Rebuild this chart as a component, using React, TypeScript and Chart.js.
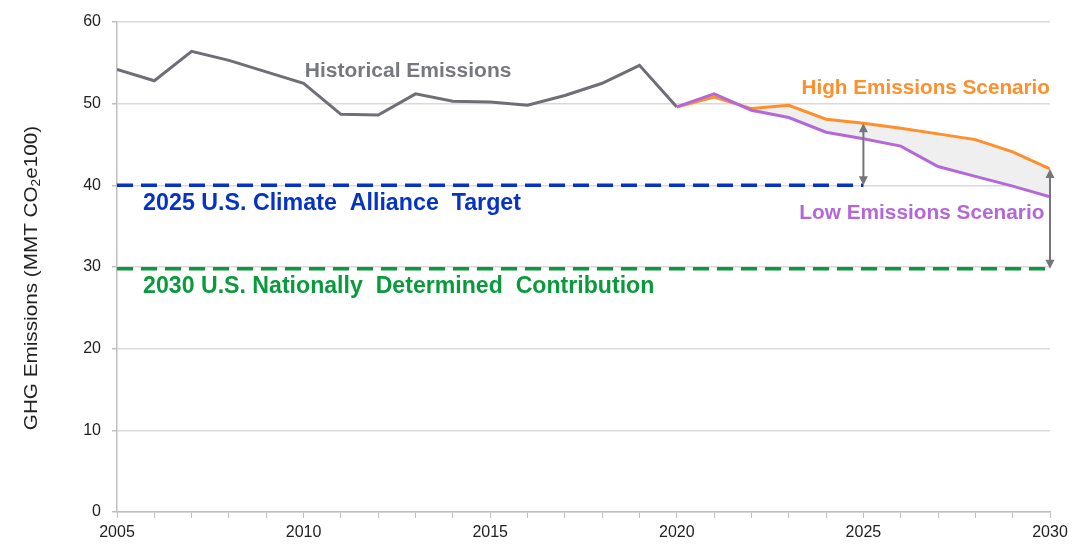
import React, { useEffect, useRef } from "react";
import { Chart, registerables } from "chart.js";

Chart.register(...registerables);

// ---- Data ----
const histYears = [2005, 2006, 2007, 2008, 2009, 2010, 2011, 2012, 2013, 2014, 2015, 2016, 2017, 2018, 2019, 2020];
const histValues = [54.2, 52.8, 56.4, 55.3, 53.9, 52.5, 48.7, 48.6, 51.2, 50.3, 50.2, 49.8, 51.0, 52.5, 54.7, 49.6];

const scenarioYears = [2020, 2021, 2022, 2023, 2024, 2025, 2026, 2027, 2028, 2029, 2030];
const highValues = [49.6, 50.8, 49.4, 49.8, 48.1, 47.6, 47.0, 46.3, 45.6, 44.1, 42.0];
const lowValues = [49.6, 51.2, 49.2, 48.3, 46.5, 45.7, 44.8, 42.3, 41.1, 39.9, 38.6];

const allianceYears = [2005, 2025];
const allianceTarget = 40;
const ndcYears = [2005, 2030];
const ndcTarget = 29.8;

const yTicks = [0, 10, 20, 30, 40, 50, 60];
const xLabelYears = [2005, 2010, 2015, 2020, 2025, 2030];

// gap arrows: at year, from target value to high scenario value
const arrowYears = [2025, 2030];
const arrowFrom = [allianceTarget, ndcTarget];
const arrowTo = [highValues[scenarioYears.indexOf(2025)], highValues[scenarioYears.indexOf(2030)]];

const labelTexts = [
  "Historical Emissions",
  "High Emissions Scenario",
  "Low Emissions Scenario",
  "2025 U.S. Climate  Alliance  Target",
  "2030 U.S. Nationally  Determined  Contribution",
];

const COLORS = {
  hist: "#6e6f76",
  histText: "#77787e",
  high: "#ff8f2a",
  low: "#b468d8",
  blue: "#0533c8",
  green: "#0a9a3c",
  arrow: "#75767c",
  fill: "#efefef",
  grid: "#d9d9d9",
  axis: "#bfbfbf",
};

const FONT = "'Liberation Sans', Arial, sans-serif";

const annotationPlugin = {
  id: "annotations",
  afterDatasetsDraw(chart: any) {
    const ctx = chart.ctx;
    const xs = chart.scales.x;
    const ys = chart.scales.y;

    // arrows
    ctx.save();
    ctx.strokeStyle = COLORS.arrow;
    ctx.fillStyle = COLORS.arrow;
    ctx.lineWidth = 2;
    arrowYears.forEach((yr, i) => {
      const x = xs.getPixelForValue(yr);
      const y1 = ys.getPixelForValue(arrowFrom[i]);
      const y2 = ys.getPixelForValue(arrowTo[i]);
      const head = 9;
      ctx.beginPath();
      ctx.moveTo(x, y1 - head + 1);
      ctx.lineTo(x, y2 + head - 1);
      ctx.stroke();
      ctx.beginPath();
      ctx.moveTo(x, y2);
      ctx.lineTo(x - 4.5, y2 + head);
      ctx.lineTo(x + 4.5, y2 + head);
      ctx.closePath();
      ctx.fill();
      ctx.beginPath();
      ctx.moveTo(x, y1);
      ctx.lineTo(x - 4.5, y1 - head);
      ctx.lineTo(x + 4.5, y1 - head);
      ctx.closePath();
      ctx.fill();
    });
    ctx.restore();

    // text labels
    const labels = [
      { t: labelTexts[0], x: 2012.8, y: 54.0, c: COLORS.histText, a: "center", f: 20, s: 1.05 },
      { t: labelTexts[1], x: 2030, y: 51.9, c: COLORS.high, a: "right", f: 20, s: 1.035 },
      { t: labelTexts[2], x: 2029.85, y: 36.6, c: COLORS.low, a: "right", f: 20, s: 1.04 },
      { t: labelTexts[3], x: 2005.7, y: 37.8, c: COLORS.blue, a: "left", f: 23, s: 1.01 },
      { t: labelTexts[4], x: 2005.7, y: 27.6, c: COLORS.green, a: "left", f: 23, s: 1.005 },
    ];
    labels.forEach((l) => {
      ctx.save();
      ctx.font = `bold ${l.f}px ${FONT}`;
      ctx.textBaseline = "middle";
      ctx.fillStyle = l.c;
      ctx.textAlign = l.a as CanvasTextAlign;
      ctx.translate(xs.getPixelForValue(l.x), ys.getPixelForValue(l.y));
      ctx.scale(l.s, 1);
      ctx.fillText(l.t, 0, 0);
      ctx.restore();
    });

    // y axis title with subscript
    ctx.save();
    const cy = (chart.chartArea.top + chart.chartArea.bottom) / 2 + 11;
    ctx.translate(32, cy);
    ctx.rotate(-Math.PI / 2);
    ctx.scale(1.15, 1);
    ctx.fillStyle = "#222";
    ctx.textBaseline = "middle";
    ctx.textAlign = "left";
    const p1 = "GHG Emissions (MMT CO";
    const p2 = "2";
    const p3 = "e100)";
    ctx.font = `18px ${FONT}`;
    const w1 = ctx.measureText(p1).width;
    const w3 = ctx.measureText(p3).width;
    ctx.font = `12px ${FONT}`;
    const w2 = ctx.measureText(p2).width;
    const total = w1 + w2 + w3;
    let x = -total / 2;
    ctx.font = `18px ${FONT}`;
    ctx.fillText(p1, x, 0);
    x += w1;
    ctx.font = `12px ${FONT}`;
    ctx.fillText(p2, x, 5);
    x += w2;
    ctx.font = `18px ${FONT}`;
    ctx.fillText(p3, x, 0);
    ctx.restore();
  },
};

export default function App() {
  const ref = useRef<HTMLCanvasElement | null>(null);

  useEffect(() => {
    if (!ref.current) return;
    const toPts = (xsArr: number[], vals: number[]) => xsArr.map((x, i) => ({ x, y: vals[i] }));
    const chart = new Chart(ref.current, {
      type: "line",
      data: {
        datasets: [
          {
            label: "Low Emissions Scenario",
            data: toPts(scenarioYears, lowValues),
            borderColor: COLORS.low,
            borderWidth: 3,
            fill: false,
            order: 0,
          },
          {
            label: "High Emissions Scenario",
            data: toPts(scenarioYears, highValues),
            borderColor: COLORS.high,
            backgroundColor: COLORS.fill,
            borderWidth: 3,
            fill: { target: 0 },
            order: 1,
          } as any,
          {
            label: "Historical Emissions",
            data: toPts(histYears, histValues),
            borderColor: COLORS.hist,
            borderWidth: 3,
            fill: false,
            order: 2,
          },
          {
            label: "2025 U.S. Climate Alliance Target",
            data: allianceYears.map((x) => ({ x, y: allianceTarget })),
            borderColor: COLORS.blue,
            borderWidth: 3.5,
            borderDash: [16, 8],
            fill: false,
            order: 3,
          },
          {
            label: "2030 U.S. Nationally Determined Contribution",
            data: ndcYears.map((x) => ({ x, y: ndcTarget })),
            borderColor: COLORS.green,
            borderWidth: 3.5,
            borderDash: [16, 8],
            fill: false,
            order: 4,
          },
        ],
      },
      options: {
        responsive: false,
        animation: false,
        devicePixelRatio: 1,
        layout: { padding: { left: 0, right: 29, top: 22, bottom: 0 } },
        elements: { point: { radius: 0, hoverRadius: 0 }, line: { tension: 0 } },
        plugins: { legend: { display: false }, tooltip: { enabled: false } },
        scales: {
          x: {
            type: "linear",
            min: 2005,
            max: 2030,
            afterFit: (s: any) => {
              s.height = 39;
            },
            afterBuildTicks: (s: any) => {
              const t = [];
              for (let v = 2005; v <= 2030; v++) t.push({ value: v });
              s.ticks = t;
            },
            ticks: {
              autoSkip: false,
              maxRotation: 0,
              padding: 5,
              color: "#222",
              font: { family: FONT, size: 16 },
              callback: (v: any) => (xLabelYears.includes(Number(v)) ? String(v) : ""),
            },
            grid: {
              drawOnChartArea: false,
              drawTicks: true,
              tickLength: 6,
              color: COLORS.axis,
            },
            border: { color: COLORS.axis, width: 1.5 },
          },
          y: {
            min: 0,
            max: 60,
            afterFit: (s: any) => {
              s.width = 117;
            },
            afterBuildTicks: (s: any) => {
              s.ticks = yTicks.map((v) => ({ value: v }));
            },
            ticks: {
              padding: 11,
              color: "#222",
              font: { family: FONT, size: 16 },
            },
            grid: {
              color: COLORS.grid,
              lineWidth: 1.5,
              tickLength: 5,
              tickColor: COLORS.axis,
            },
            border: { color: COLORS.axis, width: 1.5 },
          },
        },
      },
      plugins: [annotationPlugin],
    });
    return () => chart.destroy();
  }, []);

  return (
    <div style={{ position: "fixed", left: 0, top: 0, width: 1079, height: 551, background: "#fff" }}>
      <canvas ref={ref} width={1079} height={551} style={{ width: 1079, height: 551, display: "block" }} />
    </div>
  );
}
